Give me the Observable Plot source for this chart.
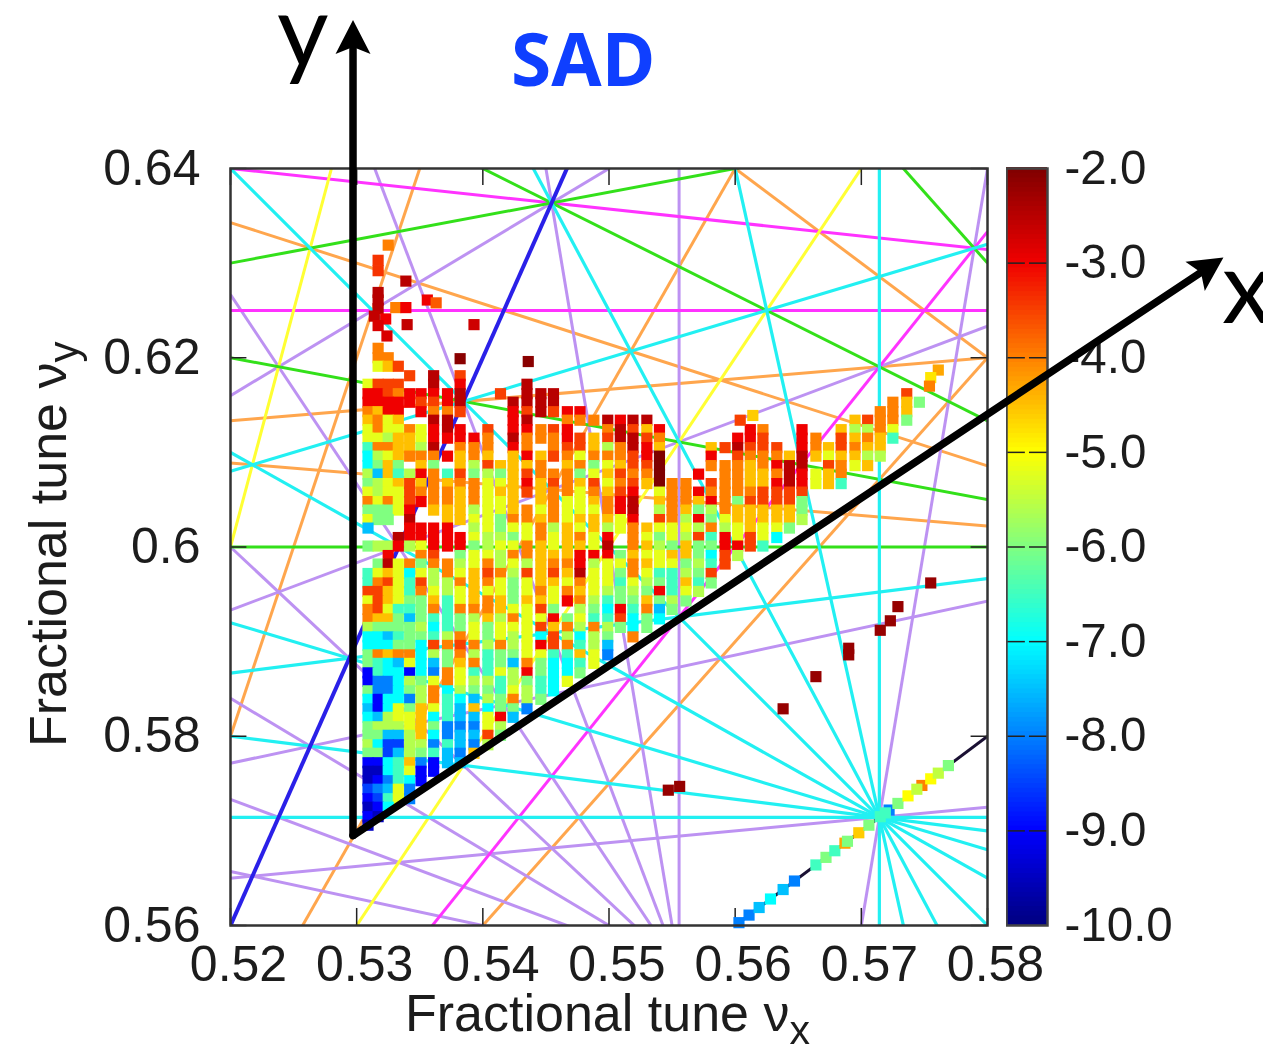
<!DOCTYPE html>
<html><head><meta charset="utf-8">
<script src="https://cdn.jsdelivr.net/npm/d3@7"></script>
<script src="https://cdn.jsdelivr.net/npm/@observablehq/plot@0.6"></script>
<style>
body{margin:0;background:#fff}
#w{position:relative;width:1263px;height:1045px;overflow:hidden}
#w svg{position:absolute;top:0;background:transparent}
.t{position:absolute;white-space:nowrap;color:#1c1c1c;font-family:"Liberation Sans";filter:blur(.5px)}
</style></head><body><div id="w"></div>
<script>
// resonance lines m*nux + n*nuy = k, by order
const resonances = {
  2:  [[1,-1,0]],
  4:  [[3,-1,1]],
  5:  [[0,5,3],[1,4,3],[1,-4,-2],[2,3,3],[3,2,3]],
  6:  [[4,-2,1],[5,-1,2]],
  7:  [[0,7,4],[1,6,4],[1,-6,-3],[2,5,4],[2,-5,-2],[3,4,4],[3,-4,-1],[4,3,4],[5,2,4],[6,1,4],[7,0,4]],
  8:  [[0,8,5],[1,7,5],[2,6,5],[5,-3,1],[7,-1,3]],
  9:  [[1,8,5],[1,-8,-4],[2,7,5],[2,-7,-3],[3,6,5],[3,-6,-2],[4,5,5],[4,-5,-1],[5,4,5],[6,3,5],[7,2,5],[8,1,5],[8,-1,4],[9,0,5]],
  10: [[1,9,6],[1,-9,-5],[3,7,6],[5,5,6],[6,-4,1],[7,-3,2],[8,-2,3]]
};
const orderColor = {2:"#1a1033",4:"#2a20e8",5:"#33e01a",6:"#ffff33",7:"#22f0f2",8:"#ff33ff",9:"#bd92f2",10:"#ffa64d"};
const orderWidth = {2:3,4:4,5:3,6:3,7:3.2,8:3,9:3,10:3};

// tune values in units of 1e-4
const gridX = [5309,5317,5325,5333,5342,5351,5361,5372,5382,5393,5404,5414,5424,5435,5446,5456,5467,5477,5488,5499,5509,5519,5530,5540,5550,5561,5571,5581,5592,5602,5612,5622,5633,5643,5653,5664,5674,5684,5695,5705,5715,5725,5736,5746,5756];
const gridY = [6210,6200,6191,6181,6172,6162,6153,6143,6134,6124,6115,6105,6096,6086,6077,6067,6058,6048,6039,6029,6020,6010,6001,5991,5982,5972,5962,5953,5943,5934,5924,5915,5905,5896,5886,5877,5867,5858,5848,5839,5829,5820,5810,5801,5791,5782,5772,5763,5753,5744,5734,5725,5715,5706];
const levelKey = {a:-2,b:-2.5,c:-3,d:-3.5,e:-4,f:-4.5,g:-5.2,h:-5.6,i:-6,j:-6.5,k:-7,l:-7.5,m:-8,n:-8.5,o:-9,p:-9.5};
// one line per row of gridY, one letter per column of gridX (see levelKey)
const gridRows = [
".e... ..... ..... ..... ..... ..... ..... ..... .....",
".ee.. ..... ..... ..... ..... ..... ..... ..... .....",
".gfd. ..... ..... ..... ..... ..... ..... ..... .....",
"....d .b.d. ..... ..... ..... ..... ..... ..... .....",
"gddd. .b.c. ...b. ..... ..... ..... ..... ..... .....",
"ccdec cccb. .d.bb b.... ..... ..... ..... ..... ..d..",
"ccccc ddcb. ..bbb b.... ..... ..... ..... ..... .efi.",
"efcc. ceed. ..cdb dcc.. ..... ..... ..... ..... eef..",
"fegf. .bb.. ..cb. .eeeb cbb.. ..... ..... ...fd eei..",
"gegge gcbc. d.cce dc..e bdfc. ..... ce..c ..fhh eg...",
"gghff gcccc e.bee ecdfd bbde. ....c cd..c e.dfe fj...",
"jeeff hb.ee e.ce. eddfh ebcf. ..fdb ddd.c efdef f....",
"khgfe eecfe f.fcf degee edca. ..c.d eeefb fgffh h....",
"kifi. fi.fh dfffe .feig fdda. ..eee fecbb .degf .....",
"hlfjh cejdi hifde eeigf deea. .c.ee ffebc gfe.. .....",
"ihgfd fefee ggfcf defdg edfae e.dee ffcbc gfj.. .....",
"ghggd eeefe gffdf eegef dc.ge eceee edddd ..... .....",
"egegd ceefe ggf.f eggfe cb.fe efcei ddddi ..... .....",
"iiigc .fffh ggfeg eggge cb.he fihef ffffi ..... .....",
"gii.b ..ffg gieef egfff gc.de hcigf ffffh ..... .....",
"l...c ccc.h gigge hfgfh gefgg ghehg fggi. ..... .....",
"...bc ccccg hhige gfegc .egig hdjcg dgk.. ..... .....",
"ihhch gccci hggef gffgb .efhi fiicc dj... ..... .....",
"..c.. ed.ig gheef ffccc ifggf fikdh ..... ..... .....",
".ibge ieehg ehghf eechg gefgg ihjd. ..... ..... .....",
"jgfgk ghegf dehdf dfbgg iegjj hid.. ..... ..... .....",
"jedgj dhhef egigf fgegg jghij fji.. ..... ..... .....",
"ddfgj eghgf ggige gefgh ihicj gh... ..... ..... .....",
"gdfgi ifjgf efiff gcehj iifih i.... ..... ..... .....",
"edgjj iejee efggd i.hik cjeli ..... ..... ..... .....",
"effil ijjih fhegg cigjj dkik. ..... ..... ..... .....",
"hiiii hkjig igggd feheh iki.. ..... ..... ..... .....",
"kklji ijheg ighgk dhkhi .e... ..... ..... ..... .....",
"kkkii kdede hehgc dejhl ..... ..... ..... ..... .....",
"iefee khieh jiigg jjfgm ..... ..... ..... ..... .....",
"ijklg klife jilei kkjg. ..... ..... ..... ..... .....",
"ojkko kmegj jghci kki.. ..... ..... ..... ..... .....",
"ommkh igegh hjhij kg... ..... ..... ..... ..... .....",
"immki hekhi ijghj k.... ..... ..... ..... ..... .....",
"kokkm hejkl hiehi ..... ..... ..... ..... ..... .....",
"lokgi fgjlf kiim. ..... ..... ..... ..... ..... .....",
"klhgg fkjll gcl.. ..... ..... ..... ..... ..... .....",
"ihhhg fimmm gh... ..... ..... ..... ..... ..... .....",
"iillh fkmll di... ..... ..... ..... ..... ..... .....",
"hknnh hmjlm h.... ..... ..... ..... ..... ..... .....",
"iinlh ijlmf ..... ..... ..... ..... ..... ..... .....",
"ookjf moll. ..... ..... ..... ..... ..... ..... .....",
"ppkjg oo... ..... ..... ..... ..... ..... ..... .....",
"pomjk o.... ..... ..... ..... ..... ..... ..... .....",
"nmlgm ..... ..... ..... ..... ..... ..... ..... .....",
"onjgm ..... ..... ..... ..... ..... ..... ..... .....",
"pok.. ..... ..... ..... ..... ..... ..... ..... .....",
"op... ..... ..... ..... ..... ..... ..... ..... .....",
"p.... ..... ..... ..... ..... ..... ..... ..... ....."
];
// isolated points: x, y (1e-4), log10 diffusion
const strayX = [5325,5317,5317,5339,5356,5363,5317,5317,5317,5314,5323,5317,5324,5331,5339,5340,5393,5382,5436,5614,5604,5761,5755,5754,5547,5556,5638,5664,5690,5690,5715,5723,5729,5755];
const strayY = [6319,6303,6292,6281,6261,6258,6269,6261,6252,6244,6241,6234,6223,6253,6253,6235,6235,6199,6196,6139,6134,6187,6179,6170,5743,5747,5829,5863,5893,5886,5912,5922,5937,5962];
const strayV = [-4,-3.4,-3.4,-2.5,-3,-3.7,-2.5,-2.5,-2.5,-2.6,-3,-2.8,-2.8,-4,-3,-2.6,-2.7,-2.1,-2.1,-4.6,-3.5,-4.3,-4.8,-4,-2.2,-2.2,-2.2,-2.2,-2.2,-2.2,-2.2,-2.2,-2.2,-2.2];
// points on the coupling line nux = nuy
const diagTune = [5603,5611,5619,5628,5638,5647,5664,5672,5679,5687,5689,5698,5706,5715,5722,5719,5729,5737,5748,5744,5755,5761,5769];
const diagV = [-8,-8,-7.5,-7,-7.5,-8,-6.5,-6,-6.5,-4.3,-6,-4.6,-6,-6.5,-8,-6.5,-6,-5,-4,-5.5,-5,-5.5,-6];

const colorDomain = [-10,-9,-8,-7,-6,-5,-4,-3,-2];
const colorRange = ["#00007f","#0000ff","#0080ff","#00ffff","#80ff80","#ffff00","#ff8000","#f00000","#7f0000"];
const xTicks = [0.52,0.53,0.54,0.55,0.56,0.57,0.58];
const yTicks = [0.56,0.58,0.6,0.62,0.64];
const barTicks = [-2,-3,-4,-5,-6,-7,-8,-9,-10];
// axis arrows in tune coordinates: shaft start, shaft end, tip
const arrowY = {x1:0.52971,y1:0.5695,x2:0.52971,y2:0.6530,tipX:0.52971,tipY:0.6557};
const arrowD = {x1:0.52971,y1:0.5695,x2:0.59692,y2:0.62901,tipX:0.59870,tipY:0.63059};

const lines = [];
for (const order of Object.keys(resonances)) for (const [m,n,k] of resonances[order]) {
  if (n === 0) lines.push({order:+order,x1:k/m,x2:k/m,y1:0.56,y2:0.64});
  else lines.push({order:+order,x1:0.52,x2:0.58,y1:(k-m*0.52)/n,y2:(k-m*0.58)/n});
}
const drawOrder = [10,9,8,6,5,7,4,2];
const pts = [];
gridRows.forEach((row,r)=>{ [...row.replace(/ /g,"")].forEach((ch,c)=>{
  if (ch!==".") pts.push({x:gridX[c]/1e4,y:gridY[r]/1e4,v:levelKey[ch]});
});});
strayX.forEach((x,i)=>pts.push({x:x/1e4,y:strayY[i]/1e4,v:strayV[i]}));
diagTune.forEach((t,i)=>pts.push({x:t/1e4,y:t/1e4,v:diagV[i]}));

const font = "Liberation Sans";
const frameOpts = {width:1263,height:1045,marginTop:168,marginBottom:120,marginLeft:230,marginRight:276,
  x:{domain:[0.52,0.58]},y:{domain:[0.56,0.64]}};
const chart = Plot.plot({
  ...frameOpts,
  style:{background:"transparent",fontFamily:font,color:"#1c1c1c",filter:"blur(.6px)"},
  color:{type:"linear",domain:colorDomain,range:colorRange},
  marks:[
    ...drawOrder.map(o=>Plot.link(lines.filter(d=>d.order===o),{x1:"x1",x2:"x2",y1:"y1",y2:"y2",stroke:orderColor[o],strokeWidth:orderWidth[o],clip:true})),
    Plot.ruleX(xTicks,{x:d=>d,y1:0.56,y2:0.5618,stroke:"#222",strokeWidth:1.5}),
    Plot.ruleX(xTicks,{x:d=>d,y1:0.64,y2:0.6382,stroke:"#222",strokeWidth:1.5}),
    Plot.ruleY(yTicks,{y:d=>d,x1:0.52,x2:0.5213,stroke:"#222",strokeWidth:1.5}),
    Plot.ruleY(yTicks,{y:d=>d,x1:0.58,x2:0.5787,stroke:"#222",strokeWidth:1.5}),
    Plot.dot(pts,{x:"x",y:"y",fill:"v",symbol:"square",r:6.3,stroke:null}),
    Plot.frame({stroke:"#333",strokeWidth:2.5}),
    Plot.axisX(xTicks,{tickSize:0,tickPadding:20,fontSize:50,label:null,dx:8,tickFormat:d=>d.toFixed(2),fill:"#1c1c1c"}),
    Plot.axisY(yTicks,{tickSize:0,tickPadding:30,fontSize:50,label:null,tickFormat:d=>String(d),fill:"#1c1c1c"})
  ]
});
chart.style.left="0";

const barLevels = d3.range(-10,-2,0.05);
const bar = Plot.plot({
  width:257,height:1045,marginTop:168,marginBottom:120,marginLeft:0,marginRight:216,
  style:{background:"transparent",fontFamily:font,color:"#1c1c1c",filter:"blur(.6px)"},
  x:{domain:[0,1],axis:null},y:{domain:[-10,-2]},
  color:{type:"linear",domain:colorDomain,range:colorRange},
  marks:[
    Plot.rect(barLevels,{x1:0,x2:1,y1:d=>d,y2:d=>d+0.06,fill:d=>d+0.025}),
    Plot.ruleY(barTicks.slice(1,-1),{y:d=>d,x1:0,x2:0.46,stroke:"#222",strokeWidth:1.5}),
    Plot.ruleY(barTicks.slice(1,-1),{y:d=>d,x1:0.56,x2:1,stroke:"#222",strokeWidth:1.5}),
    Plot.frame({stroke:"#444",strokeWidth:2.5}),
    Plot.axisY(barTicks,{anchor:"right",tickSize:0,tickPadding:17,fontSize:47.5,label:null,tickFormat:d=>d.toFixed(1),fill:"#1c1c1c"})
  ]
});
bar.style.left="1006px";

// stealth arrow head, tip at the origin, pointing up
const head = {draw(c){c.moveTo(0,0);c.lineTo(17.5,34);c.lineTo(0,27);c.lineTo(-17.5,34);c.closePath();}};
const over = Plot.plot({
  ...frameOpts,
  style:{background:"transparent"},
  x:{...frameOpts.x,axis:null},y:{...frameOpts.y,axis:null},
  marks:[
    Plot.link([arrowY,arrowD],{x1:"x1",y1:"y1",x2:"x2",y2:"y2",stroke:"#000",strokeWidth:7.5,strokeLinecap:"round"}),
    Plot.dot([arrowY],{x:"tipX",y:"tipY",symbol:head,r:10,fill:"#000",stroke:"none",rotate:0}),
    Plot.dot([arrowD],{x:"tipX",y:"tipY",symbol:head,r:10,fill:"#000",stroke:"none",rotate:56.4})
  ]
});
over.style.left="0";

const w = document.getElementById("w");
w.append(chart,bar,over);
function add(html,css,cls){const d=document.createElement("div");d.className=cls||"t";d.innerHTML=html;d.style.cssText=css;w.append(d);}
add('Fractional tune ν<span style="font-size:41px;vertical-align:-13px;line-height:0">x</span>','left:405px;top:988px;font-size:52px;line-height:50px');
add('Fractional tune ν<span style="font-size:42px;vertical-align:-12px;line-height:0">y</span>','left:23px;top:747px;font-size:52px;line-height:50px;transform-origin:0 0;transform:rotate(-90deg)');
add('SAD','position:absolute;white-space:nowrap;left:511px;top:8px;font:700 73px "Open Sans";color:#0f3fff','s');
add('y','position:absolute;white-space:nowrap;left:277px;top:6px;font:400 100px/44px Lato;color:#000','s');
add('x','position:absolute;white-space:nowrap;left:1222px;top:234px;font:400 100px/100px Lato;color:#000','s');
</script></body></html>
